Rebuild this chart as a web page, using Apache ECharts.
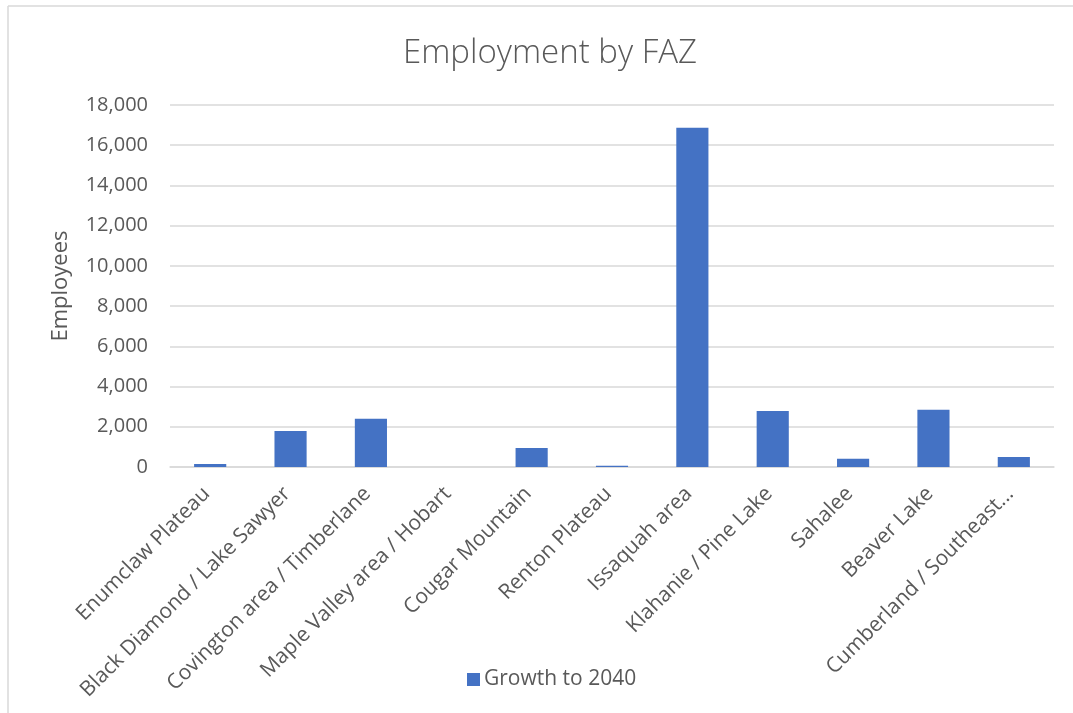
<!DOCTYPE html>
<html>
<head>
<meta charset="utf-8">
<title>Employment by FAZ</title>
<script src="https://cdn.jsdelivr.net/npm/echarts@6/dist/echarts.min.js"></script>
<style>
  html, body { margin: 0; padding: 0; background: #ffffff; }
  #chart { width: 1073px; height: 713px; }
</style>
</head>
<body>
<div id="chart"></div>
<script>
// Forecast analysis zones (FAZ)
const categories = [
  'Enumclaw Plateau',
  'Black Diamond / Lake Sawyer',
  'Covington area / Timberlane',
  'Maple Valley area / Hobart',
  'Cougar Mountain',
  'Renton Plateau',
  'Issaquah area',
  'Klahanie / Pine Lake',
  'Sahalee',
  'Beaver Lake',
  'Cumberland / Southeast...'
];

// Employment growth to 2040 per zone
const growthTo2040 = [150, 1790, 2400, 0, 945, 60, 16870, 2785, 410, 2850, 495];

const seriesName = 'Growth to 2040';
const yTicks = { min: 0, max: 18000, interval: 2000 };

const textColor = '#595959';
const gridColor = '#D9D9D9';
const barColor = '#4472C4';
const fontFamily = '"Open Sans", "Noto Sans", sans-serif';

const chart = echarts.init(document.getElementById('chart'), null, { renderer: 'canvas' });

chart.setOption({
  backgroundColor: '#ffffff',
  animation: false,
  textStyle: { fontFamily: fontFamily, color: textColor },
  title: {
    text: 'Employment by FAZ',
    left: 398,
    top: 32,
    textStyle: { fontFamily: fontFamily, fontSize: 33, fontWeight: 300, color: textColor }
  },
  legend: {
    data: [seriesName],
    bottom: 18,
    left: 462,
    icon: 'rect',
    itemWidth: 13,
    itemHeight: 13,
    itemGap: 6,
    textStyle: { fontFamily: fontFamily, fontSize: 21, color: textColor, padding: [0, 0, 0, -1] }
  },
  grid: { left: 170, right: 19, top: 105, bottom: 246, containLabel: false },
  xAxis: {
    type: 'category',
    data: categories,
    axisLine: { show: true, lineStyle: { color: gridColor, width: 1.5 } },
    axisTick: { show: false },
    axisLabel: {
      interval: 0,
      rotate: 45,
      margin: 20,
      padding: [0, 5, 0, 0],
      fontFamily: fontFamily,
      fontSize: 21,
      color: textColor
    }
  },
  yAxis: {
    type: 'value',
    min: yTicks.min,
    max: yTicks.max,
    interval: yTicks.interval,
    name: 'Employees',
    nameLocation: 'middle',
    nameRotate: 90,
    nameGap: 98,
    nameTextStyle: { fontFamily: fontFamily, fontSize: 22, color: textColor },
    axisLine: { show: false },
    axisTick: { show: false },
    splitLine: { lineStyle: { color: gridColor, width: 1.5 } },
    axisLabel: {
      margin: 22,
      fontFamily: fontFamily,
      fontSize: 20,
      color: textColor,
      formatter: v => v.toLocaleString('en-US')
    }
  },
  series: [{
    name: seriesName,
    type: 'bar',
    data: growthTo2040,
    barWidth: '40%',
    itemStyle: { color: barColor }
  }],
  graphic: [
    { type: 'line', shape: { x1: 8, y1: 6, x2: 1073, y2: 6 }, style: { stroke: gridColor, lineWidth: 1.5 }, silent: true },
    { type: 'line', shape: { x1: 8, y1: 6, x2: 8, y2: 713 }, style: { stroke: gridColor, lineWidth: 1.5 }, silent: true }
  ]
});
</script>
</body>
</html>
